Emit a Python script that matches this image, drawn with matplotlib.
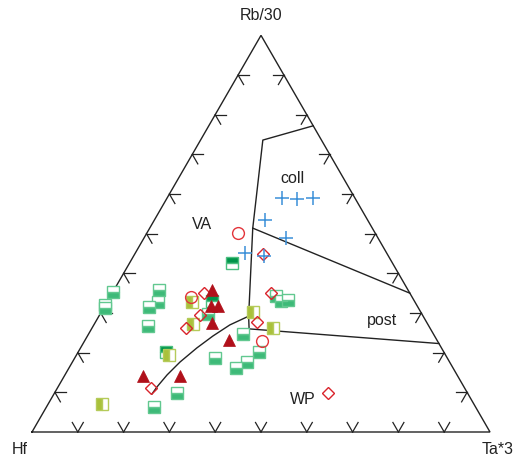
import numpy as np
import matplotlib
matplotlib.use("Agg")
import matplotlib.pyplot as plt

plt.rcParams['font.family'] = ['Liberation Sans', 'DejaVu Sans']

# ---- data: ternary compositions in percent (Hf, Rb/30, Ta*3) ----
# blue plus
plus_rb = [59.0, 58.7, 59.0, 53.5, 48.9, 45.1, 44.4]
plus_ta = [25.1, 28.5, 31.9, 24.1, 31.0, 24.0, 28.5]
# red open circles
circ_rb = [50.2, 34.0, 22.9]
circ_ta = [19.9, 17.7, 38.8]
# red open diamonds
diam_rb = [44.9, 35.0, 35.0, 29.5, 26.2, 27.7, 11.1, 9.8]
diam_ta = [28.0, 20.0, 34.7, 21.9, 20.5, 35.3, 20.4, 59.7]
# dark red filled triangles
tri_rb = [35.8, 31.8, 31.8, 27.5, 23.2, 14.1, 14.1]
tri_ta = [21.4, 23.2, 24.7, 25.6, 31.4, 17.2, 25.3]
# green squares (lower part filled)
gsq_rb = [35.3, 32.0, 31.3, 35.8, 32.8, 31.5, 26.7, 6.3, 9.8, 29.8,
          34.3, 33.0, 33.3, 24.7, 20.2, 17.6, 16.1, 18.7]
gsq_ta = [0.0, 0.0, 0.3, 9.8, 11.1, 9.8, 12.0, 23.5, 26.7, 23.6,
          36.1, 37.9, 39.3, 33.7, 39.5, 38.1, 36.5, 30.6]
# dark green squares (upper part filled)
dsq_rb = [42.6, 20.2, 33.0]
dsq_ta = [22.4, 19.2, 22.8]
# olive squares (left half filled)
osq_rb = [32.8, 27.2, 19.4, 7.1, 30.3, 26.2]
osq_ta = [18.5, 21.5, 20.2, 11.7, 33.1, 39.5]

# ---- field boundaries (Rb/30, Ta*3) ----
b_upper_rb = [77.2, 73.6, 51.4, 29.2, 26.0]
b_upper_ta = [22.8, 13.6, 22.5, 32.7, 34.4]
b_post_rb = [51.4, 35.0]
b_post_ta = [22.5, 65.0]
b_wp_rb = [26.0, 22.3]
b_wp_ta = [34.4, 77.7]
b_curve_rb = [9.6, 11.35, 14.4, 17.65, 21.2, 24.2, 27.0, 29.2]
b_curve_ta = [21.4, 21.6, 22.3, 23.5, 25.4, 27.4, 29.7, 32.7]

vertex_labels = ["Hf", "Rb/30", "Ta*3"]
field_labels = ["VA", "coll", "post", "WP"]
field_rb = [52.2, 64.0, 28.2, 8.3]
field_ta = [11.0, 24.8, 62.3, 55.0]

H = np.sqrt(3) / 2


def proj(rb, ta):
    rb = np.asarray(rb, float) / 100.0
    ta = np.asarray(ta, float) / 100.0
    return ta + rb / 2.0, rb * H


fig = plt.figure(figsize=(5.14, 4.61), dpi=100)
S = 458.0
ax = fig.add_axes([0, 0, 1, 1])
ax.set_xlim(-32 / S, (514 - 32) / S)
ax.set_ylim((432 - 461) / S, 432 / S)
ax.set_aspect('equal')
ax.axis('off')

lc = '#222222'
# triangle
tx, ty = proj([0, 100, 0, 0], [0, 0, 100, 0])
ax.plot(tx, ty, color=lc, lw=1.0, solid_joinstyle='miter')

# ticks
L = 0.024
d60 = np.array([0.5, H])
d120 = np.array([-0.5, H])
d0 = np.array([1.0, 0.0])
dm60 = np.array([0.5, -H])
d180 = np.array([-1.0, 0.0])
d240 = np.array([-0.5, -H])
for k in range(1, 10):
    f = k / 10.0
    p = np.array([f, 0.0])
    for d in (d60, d120):
        q = p + L * d
        ax.plot([p[0], q[0]], [p[1], q[1]], color=lc, lw=0.9)
    p = np.array([f * 0.5, f * H])
    for d in (d0, dm60):
        q = p + L * d
        ax.plot([p[0], q[0]], [p[1], q[1]], color=lc, lw=0.9)
    p = np.array([1 - f * 0.5, f * H])
    for d in (d180, d240):
        q = p + L * d
        ax.plot([p[0], q[0]], [p[1], q[1]], color=lc, lw=0.9)

# boundaries
for rb, ta in [(b_upper_rb, b_upper_ta), (b_post_rb, b_post_ta),
               (b_wp_rb, b_wp_ta), (b_curve_rb, b_curve_ta)]:
    x, y = proj(rb, ta)
    ax.plot(x, y, color=lc, lw=1.0)

# markers
x, y = proj(gsq_rb, gsq_ta)
ax.plot(x, y, 's', ms=9, fillstyle='bottom', markerfacecolor='#3dba78',
        markerfacecoloralt='white', markeredgecolor='#62c890', mew=1.0, ls='none')
x, y = proj(dsq_rb, dsq_ta)
ax.plot(x, y, 's', ms=9, fillstyle='top', markerfacecolor='#00944a',
        markerfacecoloralt='white', markeredgecolor='#4cbf80', mew=1.0, ls='none')
x, y = proj(osq_rb, osq_ta)
ax.plot(x, y, 's', ms=9, fillstyle='left', markerfacecolor='#a9c13a',
        markerfacecoloralt='white', markeredgecolor='#b5cb5a', mew=1.0, ls='none')
x, y = proj(circ_rb, circ_ta)
ax.plot(x, y, 'o', ms=8.5, mfc='none', mec='#e3343a', mew=1.0, ls='none')
x, y = proj(diam_rb, diam_ta)
ax.plot(x, y, 'D', ms=6.3, mfc='none', mec='#d9232b', mew=1.0, ls='none')
x, y = proj(tri_rb, tri_ta)
ax.plot(x, y, '^', ms=9, mfc='#b0101a', mec='#b0101a', mew=0.5, ls='none')
x, y = proj(plus_rb, plus_ta)
ax.plot(x, y, '+', ms=9.5, mec='#3b90d8', mew=1.1, ls='none')

# labels
fs = 11.5
tc = '#222222'
ax.text(0.5, H + 20 / S, vertex_labels[1], ha='center', va='center', fontsize=fs, color=tc)
ax.text(-12 / S, -17 / S, vertex_labels[0], ha='center', va='center', fontsize=fs, color=tc)
ax.text(1 + 8 / S, -17 / S, vertex_labels[2], ha='center', va='center', fontsize=fs, color=tc)
x, y = proj(field_rb, field_ta)
for lab, xi, yi in zip(field_labels, x, y):
    ax.text(xi, yi, lab, ha='center', va='center', fontsize=fs, color=tc)

fig.savefig('out.png', dpi=100)
